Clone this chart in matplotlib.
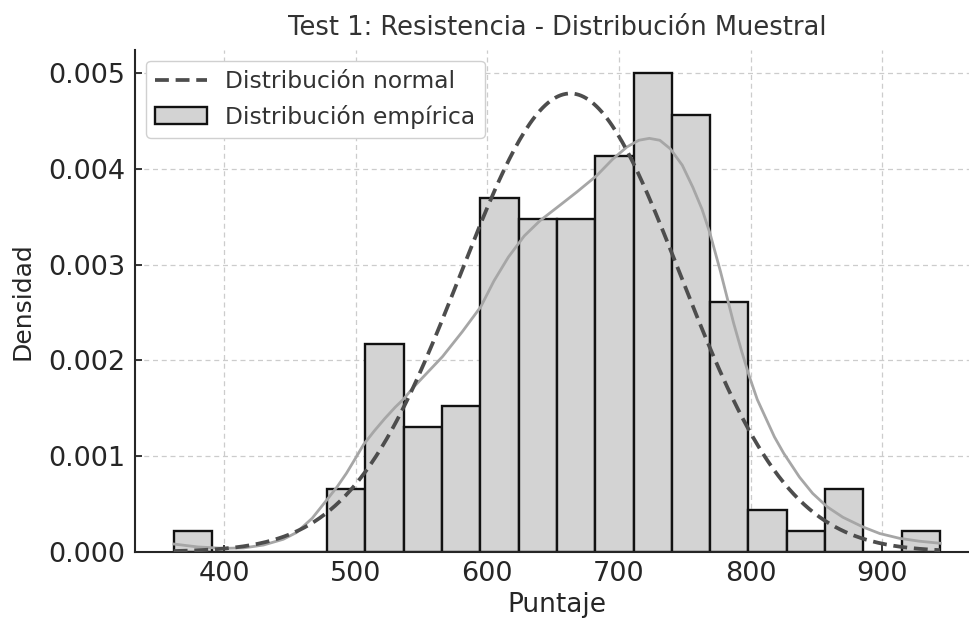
import numpy as np
import matplotlib
matplotlib.use("Agg")
import matplotlib.pyplot as plt

# ---- data ----
bin_start = 361.8
bin_width = 29.1
bin_counts = [1, 0, 0, 0, 3, 10, 6, 7, 17, 16, 16, 19, 23, 21, 12, 2, 1, 3, 0, 1]

normal_mean = 663.0
normal_std = 83.3

kde_x = [362, 380, 400, 415, 430, 445, 455, 467, 478, 486, 493, 500, 506, 514, 522, 530,
         536, 544, 555, 566, 581, 595, 605, 616, 628, 640, 655, 668, 683, 695, 706, 715,
         723, 731, 739, 748, 756, 763, 769, 777, 782, 787, 793, 799, 805, 812, 818, 825,
         837, 847, 858, 870, 885, 898, 913, 928, 944]
kde_y = [0.00008, 0.00005, 0.000035, 0.00004, 0.00007, 0.00013, 0.0002, 0.00035, 0.00054,
         0.00068, 0.00082, 0.00098, 0.00112, 0.00126, 0.00139, 0.00151, 0.00159, 0.00172,
         0.00188, 0.00204, 0.0023, 0.00256, 0.00283, 0.00308, 0.0033, 0.00346, 0.00362,
         0.00376, 0.00393, 0.0041, 0.00423, 0.0043, 0.00432, 0.0043, 0.00421, 0.00404,
         0.00381, 0.00358, 0.00333, 0.00293, 0.00266, 0.00239, 0.0021, 0.00183, 0.00159,
         0.00138, 0.0012, 0.00103, 0.00078, 0.00061, 0.00047, 0.00036, 0.00026, 0.00019,
         0.00014, 0.00011, 0.000088]

title = "Test 1: Resistencia - Distribución Muestral"
xlabel = "Puntaje"
ylabel = "Densidad"
legend_labels = ["Distribución normal", "Distribución empírica"]

# ---- figure ----
plt.rcParams['font.family'] = ['DejaVu Sans']
fig = plt.figure(figsize=(9.69, 6.19), dpi=100)
ax = fig.add_axes([0.1397, 0.1087, 0.870, 0.8103])

edges = bin_start + bin_width * np.arange(len(bin_counts) + 1)
centers = (edges[:-1] + edges[1:]) / 2
_, _, patches = ax.hist(centers, bins=edges, weights=bin_counts, density=True,
                        facecolor='#d3d3d3', edgecolor='#111111', linewidth=1.7,
                        zorder=2)

ax.plot(kde_x, kde_y, color='#a6a6a6', linewidth=2.0, zorder=3)

xs = np.linspace(edges[0], edges[-1], 300)
pdf = np.exp(-0.5 * ((xs - normal_mean) / normal_std) ** 2) / (normal_std * np.sqrt(2 * np.pi))
line_norm, = ax.plot(xs, pdf, color='#4d4d4d', linestyle='--', linewidth=2.7,
                     dashes=(3.7, 1.8), zorder=4)

ax.set_xlim(332.7, 972.9)
ax.set_ylim(0, 0.005242)
ax.set_xticks([400, 500, 600, 700, 800, 900])
ax.set_yticks([0.0, 0.001, 0.002, 0.003, 0.004, 0.005])
ax.yaxis.set_major_formatter(matplotlib.ticker.FormatStrFormatter('%.3f'))

ax.grid(True, linestyle=(0, (4, 3)), color='#cccccc', linewidth=0.9, zorder=0)
ax.set_axisbelow(True)
for s in ['top', 'right']:
    ax.spines[s].set_visible(False)
for s in ['left', 'bottom']:
    ax.spines[s].set_color('#262626')
    ax.spines[s].set_linewidth(1.5)

ax.tick_params(axis='both', direction='in', length=5, width=1.3, colors='#262626',
               labelsize=19.5, pad=7)

ax.set_title(title, fontsize=18.5, color='#333333', pad=11)
ax.set_xlabel(xlabel, fontsize=19, color='#262626', labelpad=3)
ax.set_ylabel(ylabel, fontsize=18, color='#262626', labelpad=10)

leg = ax.legend([line_norm, patches[0]], legend_labels, loc='upper left', fontsize=16.8,
                frameon=True, fancybox=True, edgecolor='#d0d0d0', framealpha=1.0,
                handlelength=2.2, borderaxespad=0.45, labelcolor='#333333')

fig.savefig("out.png", dpi=100)
